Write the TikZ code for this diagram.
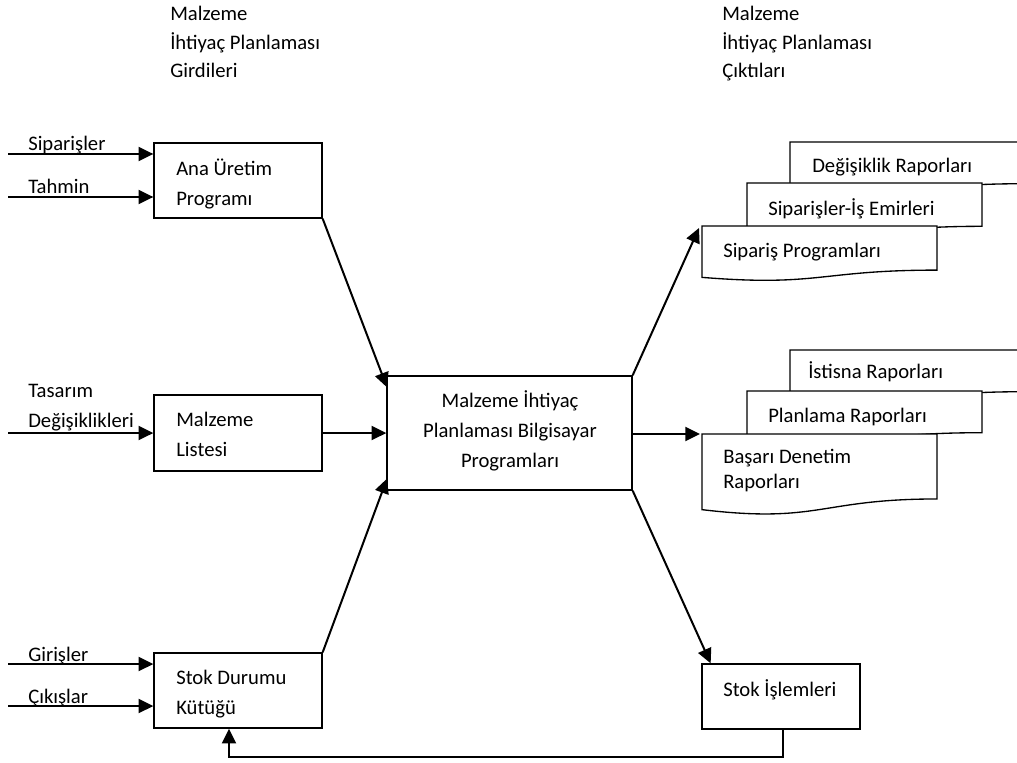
\documentclass[tikz,border=0pt]{standalone}
\usepackage{fontspec}
\setmainfont{Carlito}
\usetikzlibrary{arrows.meta,fit,calc}
\tikzset{
  box/.style={draw,line width=1pt,inner sep=0pt,fill=white},
  arr/.style={line width=1.5pt,-{Triangle[length=11pt,width=10.5pt]}},
  txt/.style={inner sep=0pt,anchor=base west,align=left,font=\fontsize{15.5pt}{22pt}\selectfont},
  headtxt/.style={txt,font=\fontsize{15.5pt}{21.4pt}\selectfont},
  doctxt/.style={txt,font=\fontsize{15.5pt}{18.75pt}\selectfont},
  docsty/.style={draw,line width=1pt,fill=white}
}
\newcommand\docshape[4]{%
  \filldraw[docsty] (#1,#2) -- ({#1+#3},#2) -- ({#1+#3},{#2+0.802*#4})
    .. controls ({#1+0.5*#3},{#2+0.802*#4}) and ({#1+0.5*#3},{#2+1.107*#4}) .. (#1,{#2+0.934*#4}) -- cycle;}
\begin{document}
\begin{tikzpicture}[x=0.75pt,y=-0.75pt]
\useasboundingbox (0,0) rectangle (1017,763);
% headings (anchor = baseline of last line)
\node[headtxt] (hin) at (170,78) {Malzeme\\İhtiyaç Planlaması\\Girdileri};
\node[headtxt] (hout) at (722,78) {Malzeme\\İhtiyaç Planlaması\\Çıktıları};
% boxes
\node[box,fit={(154,143) (322,218)}] (ana) {};
\node[box,fit={(154,395) (322,471)}] (liste) {};
\node[box,fit={(154,653) (322,728)}] (stokdur) {};
\node[box,fit={(387,376) (632,490)}] (center) {};
\node[box,fit={(702,664) (860,729)}] (stokis) {};
\node[txt] (tana) at (176,205) {Ana Üretim\\Programı};
\node[txt] (tliste) at (176,456) {Malzeme\\Listesi};
\node[txt] (tstok) at (176,714) {Stok Durumu\\Kütüğü};
\node[txt,anchor=base,align=center,font=\fontsize{15.5pt}{22.5pt}\selectfont] (tcenter) at (510,467) {Malzeme İhtiyaç\\Planlaması Bilgisayar\\Programları};
\node[txt] (tstokis) at (723,696) {Stok İşlemleri};
% documents
\docshape{790}{142}{235}{52}
\docshape{747}{183}{235}{54}
\docshape{702}{226}{235}{55}
\docshape{790}{350}{235}{52}
\docshape{747}{391}{235}{52}
\docshape{702}{434}{235}{81}
\node[doctxt] (d1) at (812,172) {Değişiklik Raporları};
\node[doctxt] (d2) at (768,215) {Siparişler-İş Emirleri};
\node[doctxt] (d3) at (723,257) {Sipariş Programları};
\node[doctxt] (d4) at (808,378) {İstisna Raporları};
\node[doctxt] (d5) at (768,422) {Planlama Raporları};
\node[doctxt] (d6) at (723,488) {Başarı Denetim\\Raporları};
\coordinate (doc1) at (699,228);
\coordinate (doc2) at (700,434);
% input arrows
\coordinate (i1) at (8,154);
\coordinate (i2) at (8,197);
\coordinate (i3) at (8,433);
\coordinate (i4) at (8,664);
\coordinate (i5) at (8,706);
\draw[arr] (i1) -- (i1 -| ana.west);
\draw[arr] (i2) -- (i2 -| ana.west);
\draw[arr] (i3) -- (i3 -| liste.west);
\draw[arr] (i4) -- (i4 -| stokdur.west);
\draw[arr] (i5) -- (i5 -| stokdur.west);
\node[txt] (l1) at (28,151) {Siparişler};
\node[txt] (l2) at (28,194) {Tahmin};
\node[txt] (l3) at (28,397) {Tasarım};
\node[txt] (l3b) at (28,427) {Değişiklikleri};
\node[txt] (l4) at (28,661) {Girişler};
\node[txt] (l5) at (28,703) {Çıkışlar};
% connectors to center
\draw[arr] (ana.south east) -- ([xshift=0.5pt,yshift=-9pt]center.north west);
\draw[arr] (liste.east) -- (liste.east -| center.west);
\draw[arr] (stokdur.north east) -- ([xshift=0.5pt,yshift=9pt]center.south west);
% outputs
\draw[arr] (center.north east) -- (doc1);
\draw[arr] (center.east |- doc2) -- (doc2);
\draw[arr] (center.south east) -- ([xshift=7pt]stokis.north west);
% feedback
\coordinate (fbr) at (783,757);
\coordinate (fbl) at (229,757);
\draw[arr] (stokis.south -| fbr) -- (fbr) -- (fbl) -- (stokdur.south -| fbl);
\end{tikzpicture}
\end{document}
